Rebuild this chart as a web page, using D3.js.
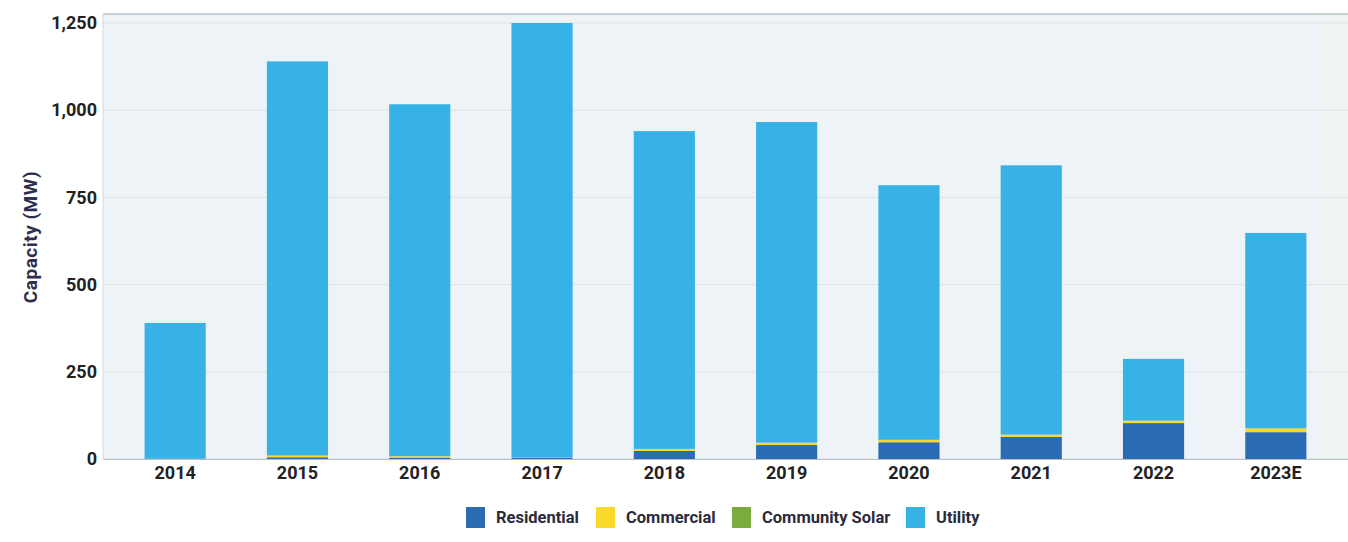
<!DOCTYPE html>
<html>
<head>
<meta charset="utf-8">
<script src="https://cdn.jsdelivr.net/npm/d3@7"></script>
<style>
  body { margin: 0; background: #fff; font-family: Roboto, "Open Sans", sans-serif; }
  .tick text { font-weight: 700; fill: #222; }
</style>
</head>
<body>
<div id="chart-area"></div>
<script>
// data (MW)
var years = ["2014", "2015", "2016", "2017", "2018", "2019", "2020", "2021", "2022", "2023E"];
var residential = [1, 5, 4, 3, 23, 40, 48, 63, 103, 77];
var commercial = [0, 5, 4, 1, 6, 7, 7, 7, 7, 11];
var communitySolar = [0, 0, 0, 0, 0, 0, 0, 0, 0, 0];
var utility = [389, 1130, 1009, 1246, 911, 919, 730, 772, 177, 560];
var yTicks = [0, 250, 500, 750, 1000, 1250];

var seriesNames = ["Residential", "Commercial", "Community Solar", "Utility"];
var seriesColors = ["#2a6bb3", "#fbd92b", "#7bab3c", "#36b2e6"];

var margin = { left: 103, right: 0, top: 23, bottom: 83 };
var width = 1348 - margin.left - margin.right,
    height = 542 - margin.top - margin.bottom;

var svg = d3.select("#chart-area")
    .append("svg")
        .attr("width", 1348)
        .attr("height", 542);

var g = svg.append("g")
    .attr("transform", "translate(" + margin.left + "," + margin.top + ")");

// plot background (starts a little above the top tick)
g.append("rect")
    .attr("x", 0)
    .attr("y", -9)
    .attr("width", 1318 - margin.left)
    .attr("height", height + 9)
    .attr("fill", "#edf3f6");
g.append("rect")
    .attr("x", 1318 - margin.left)
    .attr("y", -9)
    .attr("width", 1348 - 1318)
    .attr("height", height + 9)
    .attr("fill", "#eef4f2");
g.append("line")
    .attr("x1", 0).attr("x2", width)
    .attr("y1", -9).attr("y2", -9)
    .attr("stroke", "#c9d1d5")
    .attr("stroke-width", 2);

var table = years.map((y, i) => {
    return {
        year: y,
        "Residential": residential[i],
        "Commercial": commercial[i],
        "Community Solar": communitySolar[i],
        "Utility": utility[i]
    };
});

var x = d3.scaleBand()
    .domain(years)
    .range([0, width])
    .paddingInner(0.5)
    .paddingOuter(0.34);

var y = d3.scaleLinear()
    .domain([0, 1250])
    .range([height, 0]);

// gridlines
g.append("g")
    .selectAll("line")
    .data(yTicks)
    .enter()
    .append("line")
        .attr("x1", 0)
        .attr("x2", width)
        .attr("y1", (d) => y(d))
        .attr("y2", (d) => y(d))
        .attr("stroke", "#dde3e6");

// left border of the plot
g.append("line")
    .attr("x1", 0).attr("x2", 0)
    .attr("y1", -9).attr("y2", height)
    .attr("stroke", "#d3dade");

var stack = d3.stack().keys(seriesNames);
var stacked = stack(table);

var color = d3.scaleOrdinal().domain(seriesNames).range(seriesColors);

g.selectAll("g.layer")
    .data(stacked)
    .enter()
    .append("g")
        .attr("class", "layer")
        .attr("fill", (d) => color(d.key))
    .selectAll("rect")
    .data((d) => d)
    .enter()
    .append("rect")
        .attr("x", (d) => x(d.data.year))
        .attr("y", (d) => y(d[1]))
        .attr("width", x.bandwidth())
        .attr("height", (d) => y(d[0]) - y(d[1]));

// x axis
var xAxisCall = d3.axisBottom(x).tickSize(0).tickPadding(7);
var xAxis = g.append("g")
    .attr("class", "x axis")
    .attr("transform", "translate(0, " + height + ")")
    .call(xAxisCall);
xAxis.select(".domain").attr("stroke", "#b8bfc3");
xAxis.selectAll("text").attr("font-size", "18px").attr("font-family", "Roboto, sans-serif");

// y axis
var yAxisCall = d3.axisLeft(y)
    .tickValues(yTicks)
    .tickSize(0)
    .tickPadding(6)
    .tickFormat(d3.format(","));
var yAxis = g.append("g")
    .attr("class", "y axis")
    .call(yAxisCall);
yAxis.select(".domain").remove();
yAxis.selectAll("text").attr("font-size", "18px").attr("font-family", "Roboto, sans-serif");

// Y Label
svg.append("text")
    .attr("x", -237)
    .attr("y", 37)
    .attr("font-size", "19px")
    .attr("font-weight", 700)
    .attr("letter-spacing", "0.5px")
    .attr("fill", "#2e2e4e")
    .attr("text-anchor", "middle")
    .attr("transform", "rotate(-90)")
    .text("Capacity (MW)");

// legend
var legendX = [466, 596, 732, 906];
var legend = svg.append("g")
    .selectAll("g")
    .data(seriesNames)
    .enter()
    .append("g")
        .attr("transform", (d, i) => "translate(" + legendX[i] + ",507)");
legend.append("rect")
    .attr("width", 19)
    .attr("height", 21)
    .attr("fill", (d) => color(d));
legend.append("text")
    .attr("x", 30)
    .attr("y", 16)
    .attr("font-size", "16.5px")
    .attr("font-weight", 700)
    .attr("fill", "#2b2b3b")
    .text((d) => d);
</script>
</body>
</html>
